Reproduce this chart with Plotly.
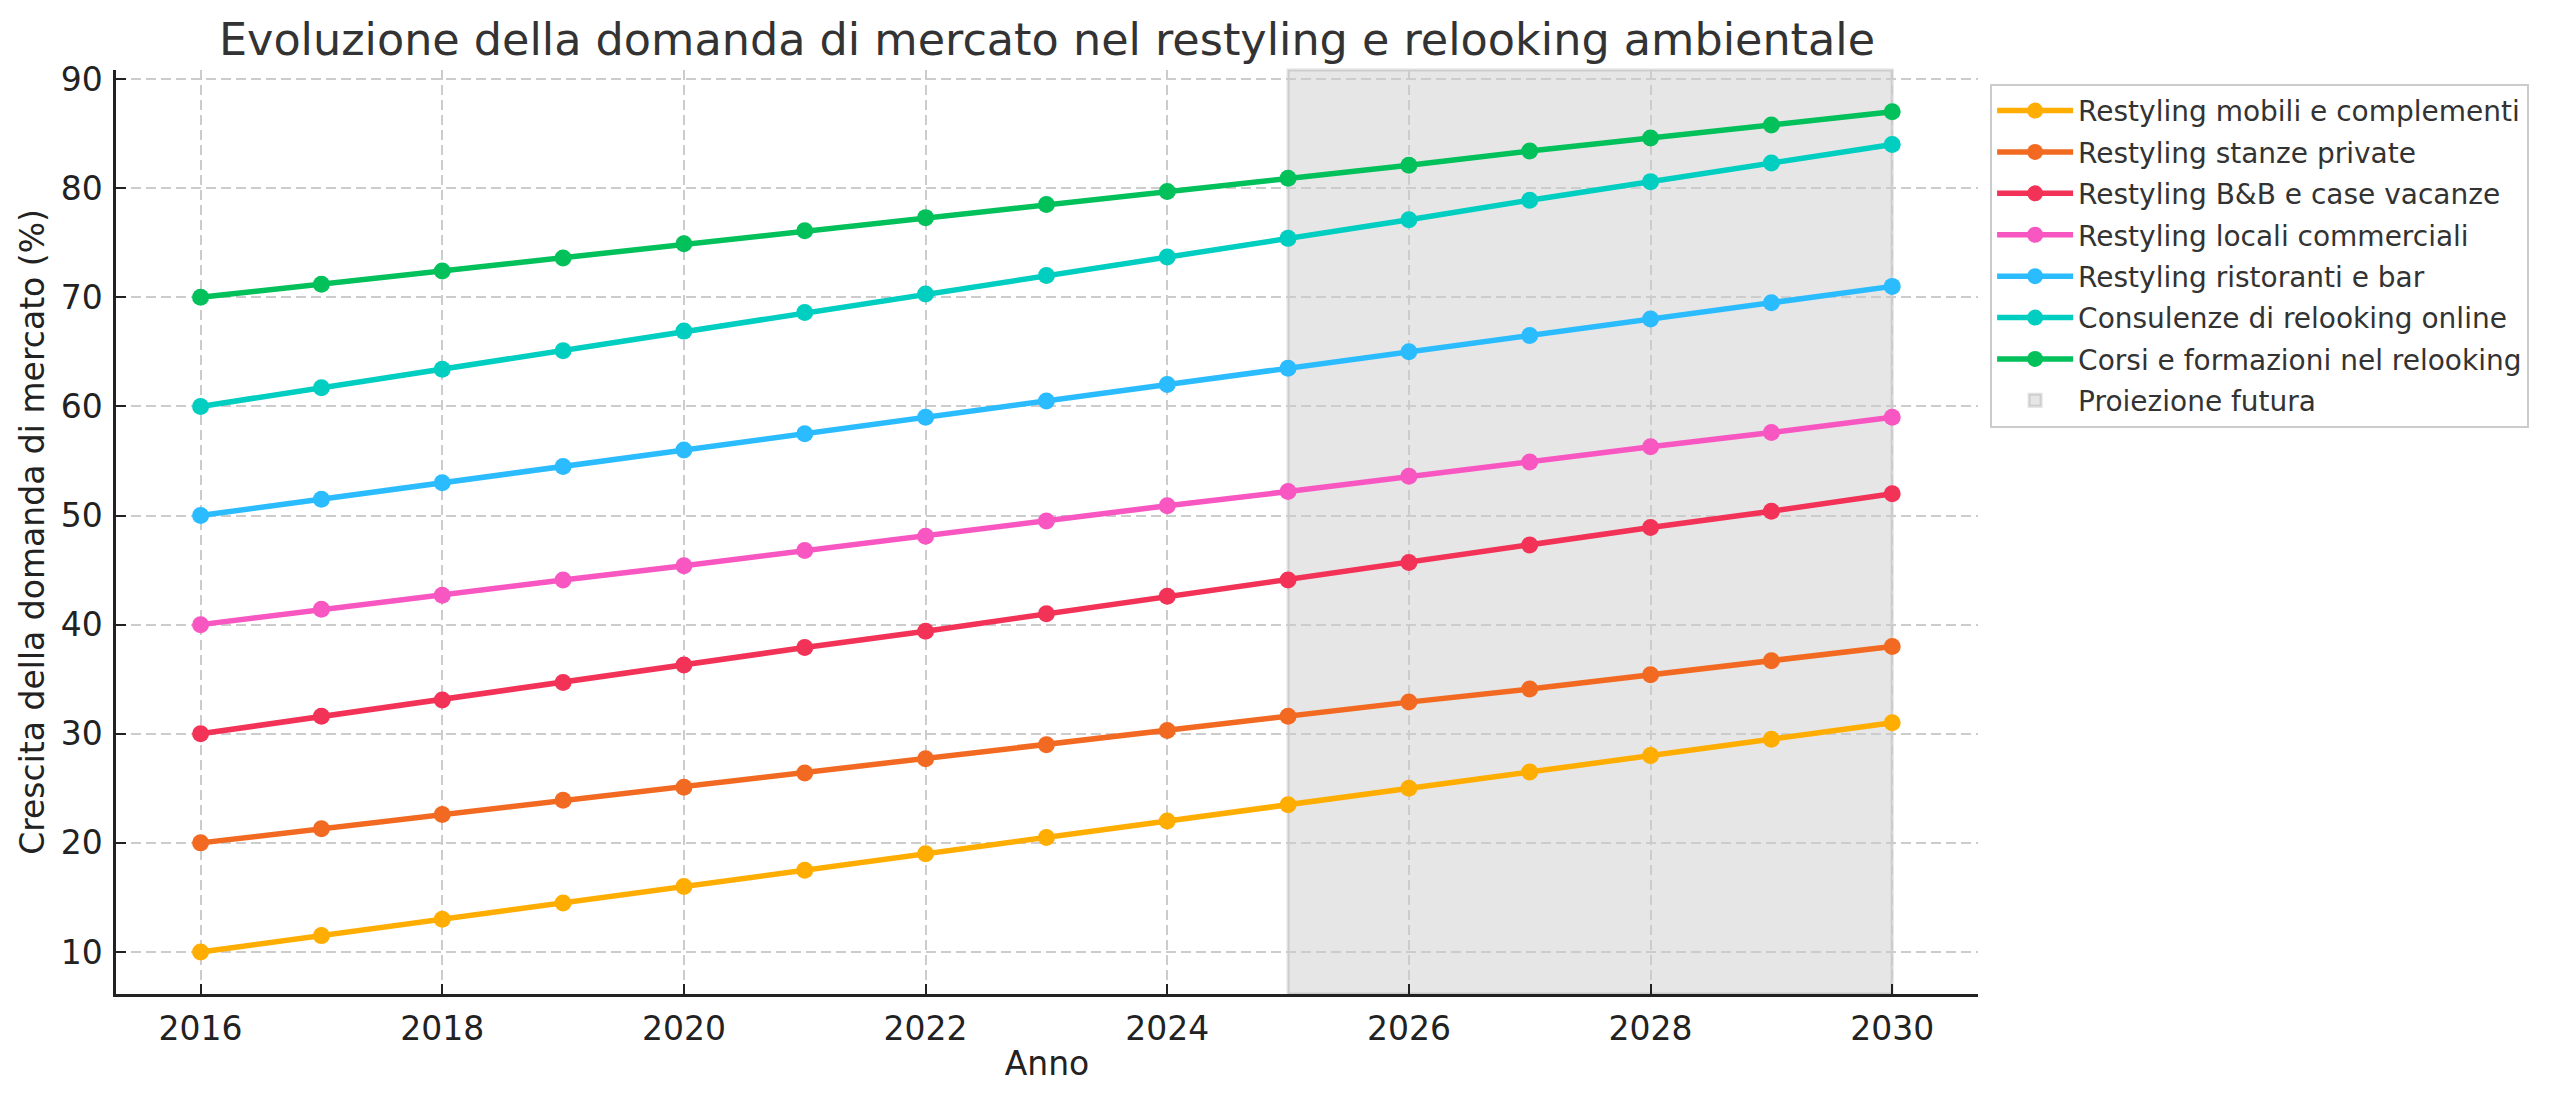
import plotly.graph_objects as go

years = list(range(2016, 2031))

series_names = [
    "Restyling mobili e complementi",
    "Restyling stanze private",
    "Restyling B&B e case vacanze",
    "Restyling locali commerciali",
    "Restyling ristoranti e bar",
    "Consulenze di relooking online",
    "Corsi e formazioni nel relooking",
]

mobili = [10, 11.5, 13, 14.5, 16, 17.5, 19, 20.5, 22, 23.5, 25, 26.5, 28, 29.5, 31]
stanze = [20, 21.3, 22.6, 23.9, 25.1, 26.4, 27.7, 29.0, 30.3, 31.6, 32.9, 34.1, 35.4, 36.7, 38]
bnb = [30, 31.6, 33.1, 34.7, 36.3, 37.9, 39.4, 41.0, 42.6, 44.1, 45.7, 47.3, 48.9, 50.4, 52]
locali = [40, 41.4, 42.7, 44.1, 45.4, 46.8, 48.1, 49.5, 50.9, 52.2, 53.6, 54.9, 56.3, 57.6, 59]
ristoranti = [50, 51.5, 53, 54.5, 56, 57.5, 59, 60.5, 62, 63.5, 65, 66.5, 68, 69.5, 71]
consulenze = [60, 61.7, 63.4, 65.1, 66.9, 68.6, 70.3, 72.0, 73.7, 75.4, 77.1, 78.9, 80.6, 82.3, 84]
corsi = [70, 71.2, 72.4, 73.6, 74.9, 76.1, 77.3, 78.5, 79.7, 80.9, 82.1, 83.4, 84.6, 85.8, 87]

all_values = [mobili, stanze, bnb, locali, ristoranti, consulenze, corsi]
colors = ["#FFAD00", "#F26A22", "#F23256", "#F857C1", "#2BBCFF", "#00CEC0", "#02C05A"]

projection_start = 2025
projection_end = 2030
projection_label = "Proiezione futura"

x_ticks = [2016, 2018, 2020, 2022, 2024, 2026, 2028, 2030]
y_ticks = [10, 20, 30, 40, 50, 60, 70, 80, 90]

FONT = "DejaVu Sans"
W, H = 2550, 1101
ML, MR, MT, MB = 108, 580, 62, 115

fig = go.Figure()
for i, (name, vals, col) in enumerate(zip(series_names, all_values, colors)):
    fig.add_trace(go.Scatter(
        x=years, y=vals, name=name, mode="lines+markers",
        line=dict(color=col, width=5.5),
        marker=dict(color=col, size=17),
        legendgroup=f"g{i}",
    ))

fig.add_shape(
    type="rect", xref="x", yref="paper",
    x0=projection_start, x1=projection_end, y0=0, y1=1,
    fillcolor="rgba(128,128,128,0.2)",
    line=dict(color="rgba(128,128,128,0.25)", width=3),
    layer="below", showlegend=True, name=projection_label,
    legendgroup="proj",
)

fig.update_layout(
    width=W, height=H,
    margin=dict(l=ML, r=MR, t=MT, b=MB),
    paper_bgcolor="white", plot_bgcolor="white",
    font=dict(family=FONT, color="#222222"),
    title=dict(
        text="Evoluzione della domanda di mercato nel restyling e relooking ambientale",
        x=(ML + (W - MR)) / 2 / W, xanchor="center",
        y=1 - 31 / H, yanchor="middle",
        font=dict(size=44.5, family=FONT, color="#333333"),
    ),
    legend=dict(
        x=1.0065, y=0.985, xanchor="left", yanchor="top",
        bgcolor="white", bordercolor="#CCCCCC", borderwidth=2,
        font=dict(size=28, family=FONT, color="#333333"),
        itemwidth=76, tracegroupgap=2, traceorder="grouped",
    ),
    showlegend=True,
)

fig.update_xaxes(
    range=[2015.3, 2030.71],
    tickmode="array", tickvals=x_ticks, ticktext=[str(t) for t in x_ticks],
    ticks="inside", ticklen=10, tickwidth=2, tickcolor="#222222",
    showline=True, linecolor="#222222", linewidth=2.5,
    showgrid=True, gridcolor="#CCCCCC", gridwidth=1.5, griddash="10px,5px",
    zeroline=False,
    tickfont=dict(size=33, family=FONT, color="#222222"),
    ticklabelstandoff=4,
    title=dict(text="Anno", font=dict(size=33, family=FONT, color="#222222"), standoff=5),
)
fig.update_yaxes(
    range=[6.15, 90.83],
    tickmode="array", tickvals=y_ticks, ticktext=[str(t) for t in y_ticks],
    ticks="inside", ticklen=10, tickwidth=2, tickcolor="#222222",
    showline=True, linecolor="#222222", linewidth=2.5,
    showgrid=True, gridcolor="#CCCCCC", gridwidth=1.5, griddash="10px,5px",
    zeroline=False,
    tickfont=dict(size=33, family=FONT, color="#222222"),
    ticklabelstandoff=4,
    title=dict(text="Crescita della domanda di mercato (%)", font=dict(size=33, family=FONT, color="#222222"), standoff=7),
)

fig.write_html("out.html")
